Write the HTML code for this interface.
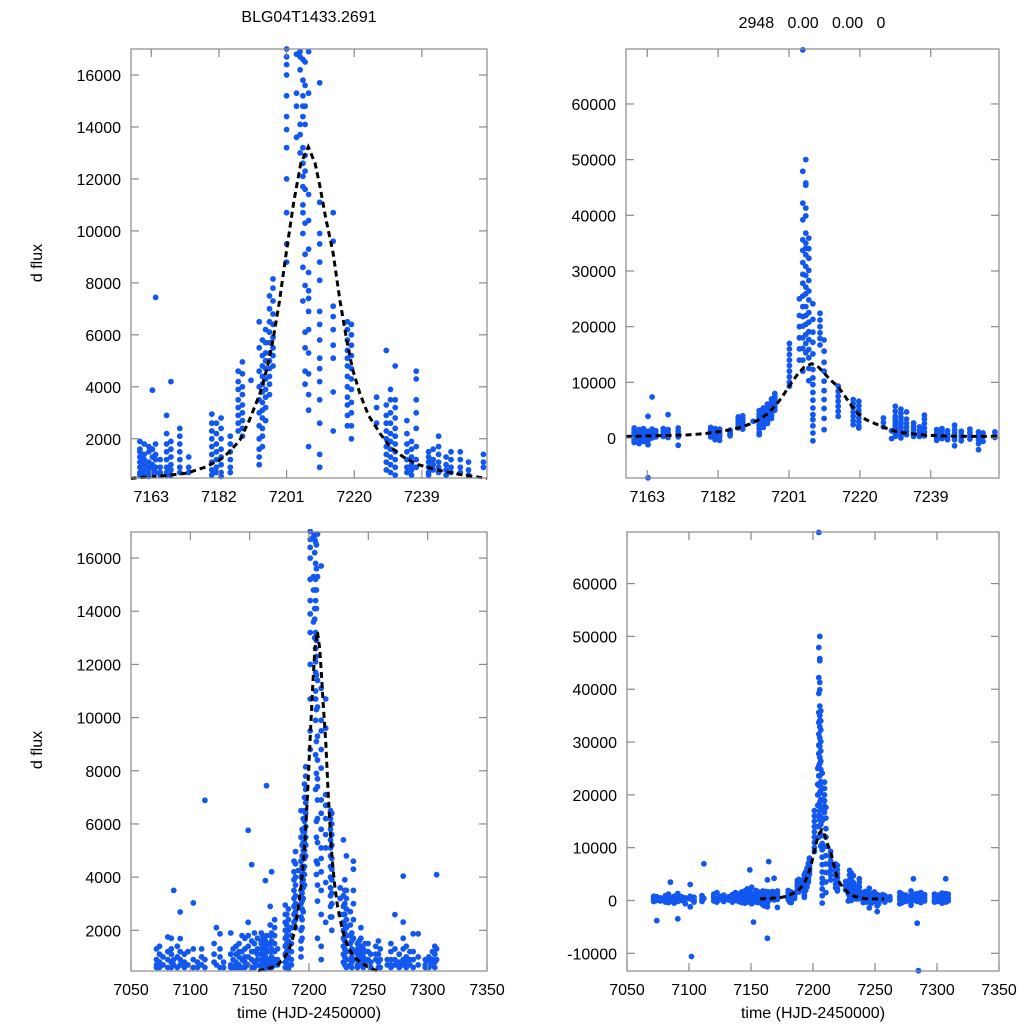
<!DOCTYPE html>
<html><head><meta charset="utf-8"><style>
html,body{margin:0;padding:0;background:#fff;}
svg{display:block;font-family:"Liberation Sans",sans-serif;}
</style></head><body>
<svg id="chart" width="1024" height="1024" viewBox="0 0 1024 1024" xmlns="http://www.w3.org/2000/svg">
<rect width="1024" height="1024" fill="#fff"/>
<text x="309" y="22" font-size="16" text-anchor="middle">BLG04T1433.2691</text>
<text x="812" y="28" font-size="16" text-anchor="middle" xml:space="preserve">2948   0.00   0.00   0</text>
<text transform="translate(42,263) rotate(-90)" font-size="16" text-anchor="middle">d flux</text>
<text transform="translate(42,750) rotate(-90)" font-size="16" text-anchor="middle">d flux</text>
<text x="309" y="1018" font-size="16" text-anchor="middle">time (HJD-2450000)</text>
<text x="813" y="1018" font-size="16" text-anchor="middle">time (HJD-2450000)</text>
</svg>
<script>
// ---- Dataset A (left panels): nightly epochs and fluxes ----
const leftNightT = [7071.5,7074,7077,7081,7084,7086,7089,7091.5,7095,7098,7102.5,7106,7109.5,7112.3,7120,7122,7125,7128,7134,7136,7138.5,7141,7143.5,7146,7148.8,7151.7,7154,7156.5,
7159.8,7161,7162.3,7163.3,7164.2,7165.5,7167.3,7168.5,7171,7173.5,7180,7181.3,7182.6,7185.2,7187.4,7188.6,7191,7193.3,7194.2,7195.1,7196.2,7197.2,7201,7203.8,7204.8,7205.6,7206.2,7207.2,7210.3,7214.1,7218.1,7219.2,7226.3,7229,7230.2,7231.5,7234.8,7236.1,7237.4,7240.9,7242.2,7243.7,7245.8,7247.2,7249.8,7252.1,7256.3,
7258.5,7260,7266,7269,7272.4,7276,7279.4,7282,7285,7287.8,7292,7298,7301,7304,7306,7307.5];
const leftNightFlux = [[600,900,1300,700],[1400,800,600,1100],[700,1000],[900,1750,600,1200],[1700,800,1100,600,1300],[3500,900,700],[1000,600,1400],[2690,1690,900,700,1200],[800,1100,600],[1200,700],[3030,900,600,1300],[800,600],[1000,700,1300],[6890,600,900],[1100,800,1500],[2100,700],[1870,1000,600,1300],[800,600],[1900,700,1100,600],[900,1300,600],[1400,800,1100,600,700],[1500,1000,700,600,1200],[1200,1800,900,600],[1700,1300,800,600,1000],[5760,2300,1800,1400,1000,700],[4470,1600,1200,900,600],[1900,1500,1200,800,600],[1700,1300,900,700,1100],
[1900,1600,1300,1100,900,700,600,1500],[1800,1400,1200,1000,800,600],[1700,1500,1100,900,700,550],[3870,1600,1300,1000,800,600],[7440,1400,1200,900,700,1800],[1200,900,700,600],[2900,2200,1800,1500,1200,900,700,600],[4200,1900,1600,1300,1000,800,600],[2400,2100,1800,1500,1200,900,700],[1300,900,700],[2950,2600,2300,2000,1700,1400,1100,800,600],[2600,2200,1800,1500,1200,900,700],[2800,2400,2000,1600,1300,1000,700,550],[2100,1800,1500,1200,900,700],[4600,4200,3900,3500,3200,2900,2600,2300],[4960,4500,4000,3700,3300,3000,2700,2400,2100],[4250],[6500,5500,4600,4000,3500,3000,2500,2000,1600,1300,1000],[5800,5200,4800,4400,4100,3800,3400,3100,2800,2400,2100,1700],[6200,5700,5300,5000,4700,4300,3900,3600,3200,2700],[7500,7000,6500,6100,5700,5300,5000,4700,4400,4100,3700],[8150,7800,7300,6800,6400,5900,5500,5200,4800],[17000,16700,16400,16000,15200,14400,13900,13200,12000,10700,9500,8800],[16800,15300,14800,13600],[16900,16700,16200,14100,13700,13000],[16600,15800,15200,14800,14400,13200,12600,12100,11700,11000,10700,9900,8600,7300],[16500,15600,14800,14100,12900,12300,11600,10300,9100,7900,6100,5500,4600,4100],[16900,15300,11400,10400,9300,8400,7700,7400,6900,6200,5300,4500,3700,3100,1700],[15700,11100,9900,9500,8800,8100,6900,6400,5800,5100,4700,4200,3500,2600,1400,900],[10700,9600,7100,6700,6200,5600,5100,3800,2300],[6500,6200,5800,5400,5100,4800,4400,4000,3600,3300,2900,2500],[6400,6000,5600,5200,4700,4300,3900,3400,3000,2500,2000],[3600,3200,2600],[5400,3300,2900,2600,2300,2000,1700,1400,1100,800],[3900,3500,3000,2600,2200,1900,1600,1300,1000,700],[4800,3500,3200,2800,2400,2100,1800,1500,1200,900,600],[2700,2200,1800,1500,1200,900,700],[1900,1600,1300,1000,800,600],[4600,4300,3500,3000,2400,1700,1200,900],[1500,1300,1100,900,700,600],[1600,1200,1000,800],[2100,1700,1400,1100,900,700],[1300,1000,800,600],[1500,1200,900,700],[1500,1200,900,700],[1100,800,600],[1400,1100,900],
[1600,1100,800,600],[1300,900,600],[700,900],[1500,1200,900,700,600],[2590,1300,900,700],[1100,800,600],[4040,2310,1700,1300,900,700],[1400,1000,800,600],[1200,900,700],[1870,1200,900,600],[1870,1000,700],[900,700,600],[1000,800,600],[1200,900,700],[1400,1100,800,600],[4090,1300,900]];

// ---- Dataset B (right panels) ----
const rightNightT = [7071.5,7074,7077,7081,7083.5,7085,7088,7091,7094,7097,7101,7102,7104,7110.5,7112,7120,7122.5,7125,7128,7132,7135,7137.5,7140,7142.5,7145,7147,7149,7150.5,7152,7154,7156,
7159.5,7160.8,7162,7163.2,7164.3,7165.3,7167.3,7168.6,7171.3,7180,7181.2,7182.4,7185.2,7187.4,7188.6,7191.4,7193,7194.1,7195.2,7196.3,7197.2,7201.1,7203.8,7204.7,7205.5,7206.3,7207.4,7209.3,7210.4,7214.2,7218.2,7219.7,7226.3,7228.5,7229.5,7231,7232.5,7234.4,7236,7237.3,7240.6,7242,7243.5,7245.4,7247.2,7249.5,7251.8,7253,7256.2,
7258,7262,7270,7272,7275,7279,7281,7284,7285,7287,7290,7298,7301,7304,7307,7309];
const rightNightFlux = [[300,-200,600,100,800],[-3800,400,0,700],[500,-100,300],[900,200,-300,600],[1200,-400,300,700],[3470,500,0],[800,200,-500,400],[-3470,1300,600,100,-200],[700,0,400],[500,-600,200],[3030,800,-1200,300],[-10600],[600,100,-300],[900,300,-200],[6940,400],[1200,500,-100,700],[1500,300,-300],[800,200,600],[1000,-200,400],[700,100],[1100,400,-300,800],[1500,600,0,300,900],[1200,500,-200,800],[1600,900,300,-400,600],[1800,1100,500,0,-500],[2200,1300,700,200,-300],[5800,1700,900,300,-200],[2500,1400,800,100,-600],[-4100,1200,500],[1900,1000,400,-300],[1600,800,200,-400],
[1800,1300,900,600,300,0,-400,-800],[1500,1000,600,200,-300,-1000],[1700,1100,700,300,-200,-600],[3900,-7150,1200,800,400,-500,-1200],[7360,1600,900,500,0],[1300,700,200],[1700,1200,700,300],[4200,1500,900,500,100],[1800,1200,700,200,-1300],[1900,1500,1000,600,200],[1700,1200,800,400,-300],[1600,1100,700,300,-400],[1400,1000,700,400],[3800,3400,3000,2600,2200,1800],[4000,3600,3200,2800,2400,2000,1600],[3000],[4900,4300,3800,3300,2800,2300,1700,1000,600],[5400,4900,4400,3900,3400,2900,2400,1900],[6100,5600,5100,4600,4100,3600,3100,2600],[7000,6500,6000,5500,5000,4500,4000,3500],[8000,7500,7000,6500,6000,5500,5000],[17000,16000,15000,14000,13000,12000,11000,10000,9300],[25000,22000,20000,18000,16000,14000],[69700,47900,42200,39200,35600,33700,31500,29400,27800,25500,23600,21800,20100,18000,16100,14000,12000],[50000,45800,45400,41300,39900,36800,35000,34100,32900,30800,29200,27100,25900,23600,22000,20400,18600,17000,15300],[35900,34000,32300,30100,28300,26400,24800,22500,20800,19100,17700,15900,14400,12500,10300],[24100,21300,19000,17200,15100,12300,10800,9600,8200,6800,5400,4200,3300,2200,900,-500],[22400,21200,20000,18900,17900,16700],[17600,15600,13600,12000,10200,8500,6900,5300,3500,1500],[9300,8400,7500,6600,5700,4800,3900],[6900,6200,5500,4700,3900,3100,2400],[6600,5800,5000,4300,3600,2900,2200,1800],[3600,2800,2000],[1300,-100],[5700,4800,3900,3300,2800,2300,1800,1300,800,300],[5200,4400,3700,3000,2500,2000,1500,1000,500,0],[4700,3400,2600,1900,1200,600],[2700,2100,1500,900,300],[2000,1400,800,300],[4100,3400,2600,1800,1100,400],[1500,900,400,0,-400],[1700,1100,500,-100],[1300,700,200,-300],[2300,1500,900,300,-300,-1400],[1200,600,100,-500],[1600,1000,400,-200],[1100,500,-300,-1000,-2100],[900,300,-600],[1100,500,100],
[900,300,-300],[700,100],[1500,800,200,-600],[1200,400,-400],[1000,300,-200],[1800,900,200,-300,-900],[4100,1200,500,0],[-4300,1300,600,-200],[-13300],[1500,800,100,-400],[1100,500,-100],[1200,600,0,-300],[1000,400,-200],[1400,800,200,-500],[4100,1300,700,100,-300],[1200,500,-100]];

// ---- Model curves ----
const modelT = [7157.2,7165,7172.8,7178,7182.2,7185,7187.9,7190.5,7193.5,7195.5,7197.2,7199,7201,7203,7205,7207.1,7209,7210.4,7212,7214.1,7216,7217.9,7219.5,7221.6,7224,7227.3,7230,7233.8,7238,7243.2,7250,7257.3];
const leftModelFlux = [475,560,670,900,1180,1500,1950,2700,3740,4700,5800,7300,9260,11100,12600,13230,12600,11700,10500,9130,7300,5800,4700,3740,2900,2200,1700,1300,1000,800,620,475];
const rightModelFlux = [300,400,520,750,1150,1450,1900,2500,3500,4500,5680,7200,9280,11200,12700,13340,12700,11670,10500,9280,7500,5680,4400,3300,2600,1700,1100,750,500,350,300,300];

// ---- Axis tick labels ----
const topXTicks = [7163,7182,7201,7220,7239];
const bottomXTicks = [7050,7100,7150,7200,7250,7300,7350];
const leftYTicks = [2000,4000,6000,8000,10000,12000,14000,16000];
const topRightYTicks = [0,10000,20000,30000,40000,50000,60000];
const bottomRightYTicks = [-10000,0,10000,20000,30000,40000,50000,60000];

const NS = 'http://www.w3.org/2000/svg';
const svg = document.getElementById('chart');
function mk(tag, attrs, parent) {
  const e = document.createElementNS(NS, tag);
  for (const k in attrs) e.setAttribute(k, attrs[k]);
  (parent || svg).appendChild(e);
  return e;
}

const panels = [
  {id:'top-left', x0:131, x1:487, y0:49, y1:478, tmin:7157.3, tmax:7257.3, fmin:490, fmax:17000, xt:topXTicks, yt:leftYTicks, nt:leftNightT, nf:leftNightFlux, mf:leftModelFlux, lblY:502},
  {id:'top-right', x0:626, x1:999, y0:49, y1:478, tmin:7157.3, tmax:7257.3, fmin:-7180, fmax:69870, xt:topXTicks, yt:topRightYTicks, nt:rightNightT, nf:rightNightFlux, mf:rightModelFlux, lblY:502},
  {id:'bottom-left', x0:131, x1:487, y0:532, y1:971, tmin:7050, tmax:7350, fmin:470, fmax:16980, xt:bottomXTicks, yt:leftYTicks, nt:leftNightT, nf:leftNightFlux, mf:leftModelFlux, lblY:995},
  {id:'bottom-right', x0:627, x1:999, y0:532, y1:971, tmin:7050, tmax:7350, fmin:-13350, fmax:69770, xt:bottomXTicks, yt:bottomRightYTicks, nt:rightNightT, nf:rightNightFlux, mf:rightModelFlux, lblY:995}
];

panels.forEach(function(p, pi) {
  const xs = function(t){ return p.x0 + (t - p.tmin) / (p.tmax - p.tmin) * (p.x1 - p.x0); };
  const ys = function(v){ return p.y1 - (v - p.fmin) / (p.fmax - p.fmin) * (p.y1 - p.y0); };
  const g = mk('g', {});
  
  
  const cp = mk('clipPath', {id:'clip' + pi}, g);
  mk('rect', {x:p.x0, y:p.y0 - 3, width:p.x1 - p.x0, height:p.y1 - p.y0 + 6}, cp);

  const pts = mk('g', {'clip-path':'url(#clip' + pi + ')', fill:'#1257f0'}, g);
  
  
  p.nt.forEach(function(t, i) {
    p.nf[i].forEach(function(v) {
      const c = mk('circle', {cx:xs(t).toFixed(1), cy:ys(v).toFixed(1), r:2.9}, pts);
      
      
    });
  });

  let d = '';
  modelT.forEach(function(t, i) { d += (i ? 'L' : 'M') + xs(t).toFixed(1) + ' ' + ys(p.mf[i]).toFixed(1); });
  const model = mk('path', {d:d, fill:'none', stroke:'#000', 'stroke-width':3, 'stroke-dasharray':'6 4', 'clip-path':'url(#clip' + pi + ')'}, g);
  
  

  const frame = mk('rect', {x:p.x0, y:p.y0, width:p.x1 - p.x0, height:p.y1 - p.y0, fill:'none', stroke:'#8a8a8a', 'stroke-width':1.2}, g);
  
  

  p.xt.forEach(function(t) {
    const x = xs(t);
    mk('line', {x1:x, x2:x, y1:p.y1, y2:p.y1 - 8, stroke:'#8a8a8a', 'stroke-width':1.2}, g);
    mk('line', {x1:x, x2:x, y1:p.y0, y2:p.y0 + 8, stroke:'#8a8a8a', 'stroke-width':1.2}, g);
    const tl = mk('text', {x:x, y:p.lblY, 'font-size':16, 'text-anchor':'middle'}, g);
    tl.textContent = t;
    
    
  });
  p.yt.forEach(function(v) {
    const y = ys(v);
    mk('line', {x1:p.x0, x2:p.x0 + 8, y1:y, y2:y, stroke:'#8a8a8a', 'stroke-width':1.2}, g);
    mk('line', {x1:p.x1, x2:p.x1 - 8, y1:y, y2:y, stroke:'#8a8a8a', 'stroke-width':1.2}, g);
    const tl = mk('text', {x:p.x0 - 10, y:y + 6, 'font-size':16, 'text-anchor':'end'}, g);
    tl.textContent = v;
    
    
  });
});
</script>
</body></html>
